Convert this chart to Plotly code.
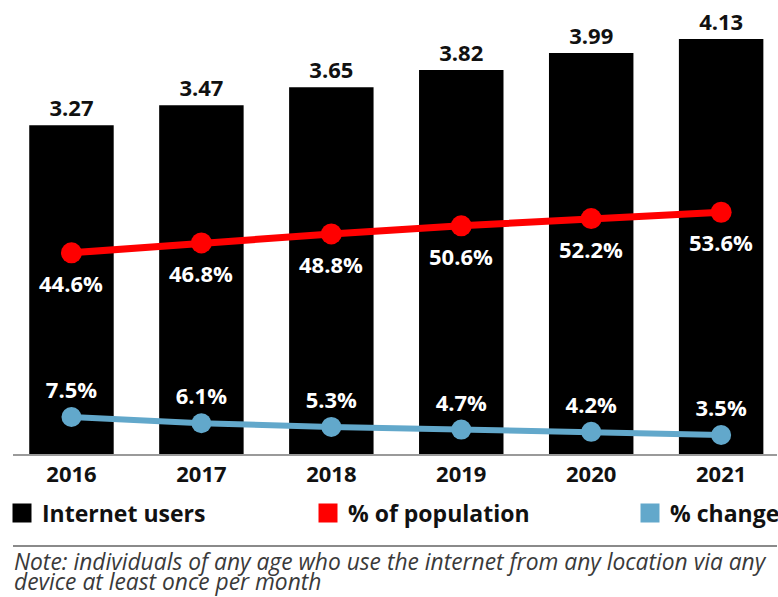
import plotly.graph_objects as go

years = ["2016", "2017", "2018", "2019", "2020", "2021"]
users = [3.27, 3.47, 3.65, 3.82, 3.99, 4.13]
pct_population = [44.6, 46.8, 48.8, 50.6, 52.2, 53.6]
pct_change = [7.5, 6.1, 5.3, 4.7, 4.2, 3.5]
legend_names = ["Internet users", "% of population", "% change"]
note_lines = [
    "Note: individuals of any age who use the internet from any location via any",
    "device at least once per month",
]

BLACK = "#000000"
RED = "#ff0000"
BLUE = "#62a8cb"
FONT = "Open Sans"

fig = go.Figure()

fig.add_trace(go.Bar(
    x=years, y=users, marker=dict(color=BLACK, line=dict(width=0)),
    width=0.65, text=[f"{v:.2f}" for v in users], textposition="outside",
    textfont=dict(family=FONT, size=22, color="#111111", weight="bold"),
    cliponaxis=False, showlegend=False, yaxis="y",
))

fig.add_trace(go.Scatter(
    x=years, y=pct_population, mode="lines+markers",
    line=dict(color=RED, width=7), marker=dict(color=RED, size=21),
    cliponaxis=False, showlegend=False, yaxis="y2",
))

fig.add_trace(go.Scatter(
    x=years, y=pct_change, mode="lines+markers+text",
    line=dict(color=BLUE, width=6), marker=dict(color=BLUE, size=20),
    text=[f"{v:.1f}%" for v in pct_change], textposition="top center",
    textfont=dict(family=FONT, size=22, color="white", weight="bold"),
    cliponaxis=False, showlegend=False, yaxis="y3",
))

# white labels below the red markers (category index positions)
for i, v in enumerate(pct_population):
    fig.add_annotation(
        x=i, y=v, xref="x", yref="y2", text=f"{v:.1f}%", showarrow=False,
        yshift=-30, font=dict(family=FONT, size=22, color="white", weight="bold"),
    )

# legend entries (square swatches)
for name, col, lg in zip(legend_names, [BLACK, RED, BLUE], ["legend", "legend2", "legend3"]):
    fig.add_trace(go.Scatter(
        x=[None], y=[None], mode="markers", name=name,
        marker=dict(symbol="square", size=16, color=col, line=dict(color=col, width=3)),
        legend=lg,
    ))

legend_common = dict(
    orientation="h", xref="container", yref="container", xanchor="left", yanchor="middle",
    y=1 - 513 / 597, font=dict(family=FONT, size=23, color="#111111", weight="bold"),
    bgcolor="rgba(0,0,0,0)", borderwidth=0, itemclick=False,
)

fig.update_layout(
    width=778, height=597,
    margin=dict(l=13, r=1, t=10, b=143),
    paper_bgcolor="white", plot_bgcolor="white",
    bargap=0.35,
    xaxis=dict(
        type="category", range=[-0.45, 5.43], showgrid=False, zeroline=False,
        showline=True, linecolor="#9a9a9a", linewidth=2, ticks="",
        tickfont=dict(family=FONT, size=22, color="#111111", weight="bold"),
    ),
    yaxis=dict(range=[0, 4.418], visible=False, showgrid=False, zeroline=False),
    yaxis2=dict(range=[0, 98.45], overlaying="y", visible=False, showgrid=False, zeroline=False),
    yaxis3=dict(range=[-0.722, 97.94], overlaying="y", visible=False, showgrid=False, zeroline=False),
    legend=dict(x=2 / 778, **legend_common),
    legend2=dict(x=308 / 778, **legend_common),
    legend3=dict(x=630 / 778, **legend_common),
    showlegend=True,
)

fig.add_shape(type="line", xref="paper", yref="paper", x0=0, x1=1,
              y0=(454 - 546) / 444, y1=(454 - 546) / 444,
              line=dict(color="#8a8a8a", width=2))

for i, line in enumerate(note_lines):
    fig.add_annotation(
        text=f"<i>{line}</i>", xref="paper", yref="paper",
        x=0, xshift=-1, y=(454 - (561 + 20 * i)) / 444, xanchor="left", yanchor="middle",
        showarrow=False, font=dict(family=FONT, size=22.8, color="#3a3a3a"),
    )

fig.write_html("out.html")
